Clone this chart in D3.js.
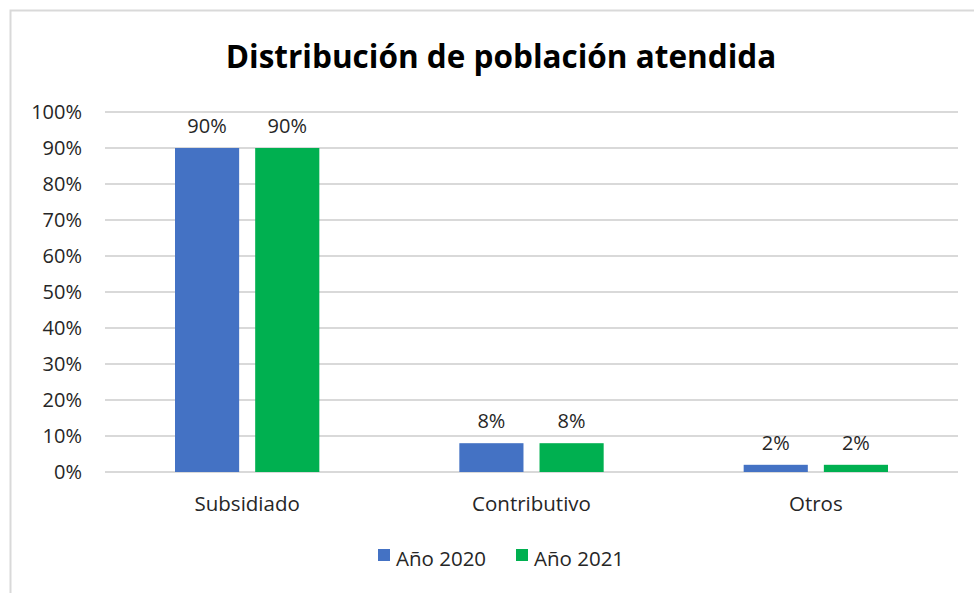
<!DOCTYPE html>
<html lang="es">
<head>
    <meta charset="UTF-8">
    <title>Distribución de población atendida</title>
    <script src="https://d3js.org/d3.v7.min.js"></script>
    <style>
        body {
            margin: 0;
            background: #fff;
            font-family: "Open Sans", "Noto Sans", sans-serif;
        }
        .grid line {
            stroke: #d9d9d9;
            stroke-width: 2px;
        }
        .tick-label, .cat-label, .bar-label, .legend text {
            fill: #262626;
        }
    </style>
</head>
<body>
    <svg width="974" height="593"></svg>

    <script>
        // data
        const categories = ["Subsidiado", "Contributivo", "Otros"];
        const seriesNames = ["Año 2020", "Año 2021"];
        const values2020 = [0.90, 0.08, 0.02];
        const values2021 = [0.90, 0.08, 0.02];
        const colors = ["#4472C4", "#00B050"];
        const yTicks = [0, 0.1, 0.2, 0.3, 0.4, 0.5, 0.6, 0.7, 0.8, 0.9, 1.0];

        const svg = d3.select("svg");

        // light chart border
        svg.append("path")
            .attr("d", "M10.5,593 L10.5,10.5 L974,10.5")
            .attr("fill", "none")
            .attr("stroke", "#d9d9d9")
            .attr("stroke-width", 2);

        // title
        svg.append("text")
            .attr("x", 501)
            .attr("y", 68)
            .attr("text-anchor", "middle")
            .attr("font-size", 31.5)
            .attr("font-weight", "bold")
            .attr("fill", "#000")
            .text("Distribución de población atendida");

        const plot = { left: 105, right: 958, top: 112, bottom: 472 };

        const x = d3.scaleBand()
            .domain(categories)
            .range([plot.left, plot.right]);

        const xInner = d3.scaleBand()
            .domain(seriesNames)
            .range([70, x.bandwidth() - 70])
            .paddingInner(0.2);

        const y = d3.scaleLinear()
            .domain([0, 1])
            .range([plot.bottom, plot.top]);

        // gridlines
        svg.append("g")
            .attr("class", "grid")
            .selectAll("line")
            .data(yTicks)
            .enter().append("line")
            .attr("x1", plot.left)
            .attr("x2", plot.right)
            .attr("y1", d => y(d))
            .attr("y2", d => y(d));

        // y axis labels
        const pct = d3.format(".0%");
        svg.append("g")
            .selectAll("text")
            .data(yTicks)
            .enter().append("text")
            .attr("class", "tick-label")
            .attr("x", 82)
            .attr("y", d => y(d))
            .attr("dy", "0.35em")
            .attr("text-anchor", "end")
            .attr("font-size", 20)
            .text(d => pct(d));

        // bars
        const rows = categories.map((c, i) => ({
            cat: c,
            vals: [values2020[i], values2021[i]]
        }));

        const groups = svg.selectAll(".cat")
            .data(rows)
            .enter().append("g")
            .attr("class", "cat")
            .attr("transform", d => `translate(${x(d.cat)},0)`);

        groups.selectAll("rect")
            .data(d => d.vals.map((v, j) => ({ name: seriesNames[j], v, j })))
            .enter().append("rect")
            .attr("x", d => xInner(d.name))
            .attr("width", xInner.bandwidth())
            .attr("y", d => y(d.v))
            .attr("height", d => y(0) - y(d.v))
            .attr("fill", d => colors[d.j]);

        groups.selectAll(".bar-label")
            .data(d => d.vals.map((v, j) => ({ name: seriesNames[j], v, j })))
            .enter().append("text")
            .attr("class", "bar-label")
            .attr("x", d => xInner(d.name) + xInner.bandwidth() / 2)
            .attr("y", d => y(d.v) - 15)
            .attr("text-anchor", "middle")
            .attr("font-size", 20)
            .text(d => pct(d.v));

        // category labels
        svg.append("g")
            .selectAll("text")
            .data(categories)
            .enter().append("text")
            .attr("class", "cat-label")
            .attr("x", d => x(d) + x.bandwidth() / 2)
            .attr("y", 511)
            .attr("text-anchor", "middle")
            .attr("font-size", 20.5)
            .text(d => d);

        // legend
        const legend = svg.append("g").attr("class", "legend");
        const legendX = [378, 516];
        seriesNames.forEach((name, i) => {
            legend.append("rect")
                .attr("x", legendX[i])
                .attr("y", 549)
                .attr("width", 12)
                .attr("height", 12)
                .attr("fill", colors[i]);
            legend.append("text")
                .attr("x", legendX[i] + 18)
                .attr("y", 566)
                .attr("font-size", 20.5)
                .text(name);
        });
    </script>
</body>
</html>
